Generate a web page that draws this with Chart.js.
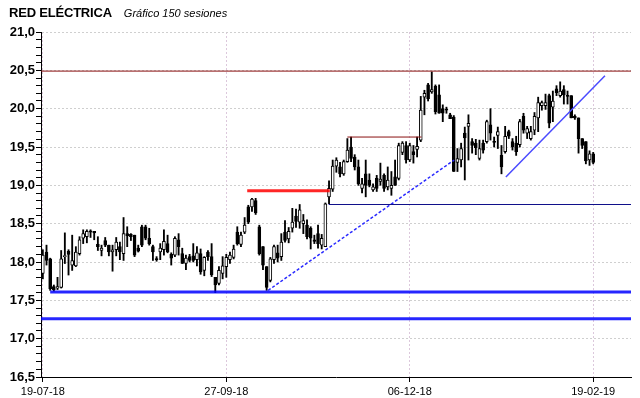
<!DOCTYPE html>
<html>
<head>
<meta charset="utf-8">
<script src="https://cdn.jsdelivr.net/npm/chart.js@4.4.1/dist/chart.umd.min.js"></script>
<style>
  html, body { margin: 0; padding: 0; background: #fff; }
  #wrap { position: relative; width: 640px; height: 398px; }
  #title { position: absolute; left: 9px; top: 3px; font-family: "Liberation Sans", Arial, sans-serif; white-space: nowrap; color: #000; }
  #title b { font-size: 13px; letter-spacing: -0.2px; }
  #title i { font-size: 11px; margin-left: 12px; }
</style>
</head>
<body>
<div id="wrap">
  <canvas id="chart" width="640" height="398"></canvas>
  <div id="title"><b>RED ELÉCTRICA</b><i>Gráfico 150 sesiones</i></div>
</div>
<script>
// sesiones (0..150), valores
const opens = [17.85,18.13,18.04,17.68,17.66,17.67,18.07,18.14,17.96,17.95,
  18.11,18.31,18.33,18.40,18.40,18.23,18.15,18.28,18.22,18.13,
  18.16,18.20,18.11,18.37,18.36,18.35,18.18,18.46,18.46,18.31,
  18.20,18.04,18.13,18.16,18.24,18.10,18.09,18.29,18.11,17.98,
  18.07,18.08,18.03,18.11,17.89,18.13,18.07,17.80,17.72,17.85,
  17.94,18.03,18.06,18.39,18.23,18.39,18.72,18.72,18.80,18.46,
  18.20,17.94,17.76,18.03,18.12,18.07,18.39,18.30,18.44,18.60,
  18.52,18.50,18.48,18.44,18.29,18.37,18.22,18.20,18.85,18.95,
  19.25,19.24,19.15,19.31,19.50,19.37,19.24,18.96,19.15,19.07,
  18.94,19.09,19.05,19.13,18.98,18.96,19.11,19.09,19.43,19.52,
  19.33,19.44,19.47,19.59,20.15,20.31,20.22,20.29,20.18,20.00,
  19.99,19.92,19.89,19.30,19.33,19.68,19.77,19.57,19.55,19.35,
  19.55,19.57,19.79,19.57,19.65,19.39,19.44,19.70,19.57,19.55,
  19.53,19.90,19.68,19.61,19.72,19.88,20.04,20.04,20.17,20.02,
  20.26,20.17,20.25,20.17,20.17,19.90,19.88,19.61,19.57,19.33,
  19.41];
const highs = [18.16,18.22,18.05,17.70,17.80,18.15,18.38,18.16,18.35,18.20,
  18.33,18.42,18.42,18.42,18.40,18.33,18.22,18.32,18.22,18.22,
  18.32,18.26,18.58,18.46,18.37,18.35,18.22,18.48,18.48,18.44,
  18.22,18.07,18.24,18.42,18.35,18.12,18.33,18.37,18.18,18.09,
  18.10,18.24,18.20,18.17,18.07,18.15,18.24,17.80,17.94,18.07,
  18.10,18.13,18.22,18.46,18.39,18.58,18.74,18.83,18.83,18.48,
  18.20,17.94,18.06,18.22,18.22,18.37,18.54,18.45,18.70,18.69,
  18.75,18.62,18.55,18.46,18.35,18.48,18.36,18.77,19.06,19.33,
  19.36,19.30,19.33,19.61,19.63,19.40,19.33,19.09,19.33,19.15,
  19.02,19.13,19.29,19.15,19.24,19.18,19.33,19.55,19.57,19.57,
  19.55,19.52,19.63,20.16,20.24,20.33,20.48,20.31,20.31,20.05,
  20.02,19.94,19.91,19.48,19.55,19.76,19.92,19.61,19.60,19.59,
  19.59,19.85,20.00,19.63,19.76,19.52,19.77,19.72,19.61,19.64,
  19.86,19.94,19.77,19.77,19.95,20.15,20.10,20.19,20.19,20.23,
  20.30,20.35,20.30,20.23,20.17,19.92,19.88,19.61,19.57,19.45,
  19.43];
const lows = [17.78,17.96,17.63,17.62,17.64,17.66,17.98,17.83,17.89,17.94,
  18.09,18.24,18.25,18.32,18.29,18.15,18.08,18.20,18.08,17.88,
  18.08,18.03,18.02,18.20,18.28,18.07,18.13,18.20,18.29,18.22,
  18.02,18.01,18.03,18.09,18.12,17.96,18.07,18.09,17.98,17.90,
  18.00,18.00,17.95,17.84,17.82,18.02,17.81,17.60,17.70,17.78,
  17.80,17.98,18.04,18.22,18.20,18.37,18.50,18.66,18.62,18.09,
  17.90,17.63,17.74,17.98,18.00,18.02,18.26,18.25,18.39,18.45,
  18.44,18.37,18.30,18.17,18.24,18.18,18.17,18.20,18.76,18.92,
  19.17,19.11,19.13,19.30,19.31,19.20,19.00,18.90,18.85,18.98,
  18.92,18.92,19.00,18.92,18.94,18.87,19.00,19.07,19.40,19.29,
  19.31,19.29,19.37,19.57,19.92,20.10,20.20,19.93,19.94,19.83,
  19.94,19.87,19.18,19.18,19.24,19.07,19.33,19.42,19.40,19.33,
  19.42,19.55,19.59,19.50,19.48,19.15,19.42,19.61,19.46,19.39,
  19.50,19.68,19.61,19.59,19.66,19.70,19.98,19.99,19.75,19.83,
  20.17,20.15,20.06,20.06,19.88,19.86,19.42,19.48,19.28,19.26,
  19.28];
const closes = [18.09,18.02,17.65,17.64,17.68,18.04,18.08,18.10,18.02,18.13,
  18.29,18.37,18.40,18.39,18.38,18.20,18.18,18.22,18.13,18.16,
  18.26,18.13,18.37,18.34,18.33,18.09,18.14,18.22,18.31,18.24,
  18.13,18.03,18.18,18.27,18.13,18.05,18.31,18.20,17.98,18.05,
  18.02,18.02,18.12,17.87,18.06,18.07,17.83,17.70,17.89,17.95,
  18.06,18.09,18.17,18.24,18.35,18.48,18.52,18.82,18.64,18.11,
  17.96,17.67,18.04,18.20,18.05,18.26,18.28,18.40,18.52,18.53,
  18.68,18.54,18.33,18.31,18.27,18.24,18.31,18.76,18.96,19.25,
  19.33,19.15,19.31,19.46,19.35,19.24,19.02,19.02,19.00,19.00,
  18.98,18.96,19.08,18.96,19.07,19.00,19.00,19.52,19.55,19.33,
  19.52,19.40,19.51,19.98,20.20,20.13,20.25,19.96,19.94,19.94,
  19.98,19.87,19.18,19.35,19.48,19.62,19.81,19.52,19.49,19.48,
  19.46,19.83,19.68,19.56,19.70,19.24,19.64,19.64,19.50,19.44,
  19.83,19.72,19.74,19.70,19.90,20.08,20.08,20.08,19.81,20.10,
  20.21,20.23,20.18,20.16,19.88,19.88,19.61,19.52,19.32,19.41,
  19.30];

// ejes
const dateTicks = [0, 50, 100, 150];
const dateLabels = ['19-07-18', '27-09-18', '06-12-18', '19-02-19'];
const yLabels = [16.5, 17.0, 17.5, 18.0, 18.5, 19.0, 19.5, 20.0, 20.5, 21.0];

// líneas dibujadas sobre el gráfico [sesión, precio]
const resistTop = [[-0.5, 20.49], [160.3, 20.49]];
const resistMid = [[83.0, 19.63], [103.2, 19.63]];
const resistLow = [[55.7, 18.93], [78.2, 18.93]];
const supportMid = [[77.9, 18.75], [160.3, 18.75]];
const support1 = [[2, 17.61], [160.3, 17.61]];
const support2 = [[-0.5, 17.26], [160.3, 17.26]];
const trendDashed = [[61.4, 17.63], [112.1, 19.33]];
const trendSolid = [[126.2, 19.11], [153.2, 20.43]];

const idx = opens.map((_, i) => i);
const wickData = idx.map(i => ({ x: i, y: [lows[i], highs[i]] }));
const bodyData = idx.map(i => {
  let lo = Math.min(opens[i], closes[i]), hi = Math.max(opens[i], closes[i]);
  if (hi - lo < 0.015) hi = lo + 0.015;
  return { x: i, y: [lo, hi] };
});
const bodyColors = idx.map(i => closes[i] >= opens[i] ? '#ffffff' : '#000000');

const pts = arr => arr.map(p => ({ x: p[0], y: p[1] }));
function lineSet(arr, color, width, dash) {
  return {
    type: 'line', data: pts(arr), borderColor: color, borderWidth: width,
    borderDash: dash || [], pointRadius: 0, fill: false, order: 0, tension: 0
  };
}

const isMajor = v => yLabels.some(l => Math.abs(l - v) < 1e-6);

new Chart(document.getElementById('chart').getContext('2d'), {
  type: 'bar',
  data: {
    datasets: [
      { data: wickData, backgroundColor: '#000', barThickness: 1.2, grouped: false, order: 2 },
      { data: bodyData, backgroundColor: bodyColors, borderColor: '#000', borderWidth: 1,
        borderSkipped: false, barThickness: 3, grouped: false, order: 1 },
      lineSet(resistTop, '#8a1010', 1),
      lineSet(resistMid, '#8a1010', 1),
      lineSet(resistLow, 'rgba(255,0,0,0.85)', 3),
      lineSet(supportMid, '#10108a', 1),
      lineSet(support1, 'rgba(0,0,255,0.85)', 3),
      lineSet(support2, 'rgba(0,0,255,0.85)', 3),
      lineSet(trendDashed, '#2a2aff', 1.5, [3, 2]),
      lineSet(trendSolid, '#4a4aff', 1.5)
    ]
  },
  options: {
    responsive: false,
    animation: false,
    devicePixelRatio: 1,
    layout: { padding: { top: 32, right: 9, left: 0, bottom: 0 } },
    plugins: { legend: { display: false }, tooltip: { enabled: false }, title: { display: false } },
    scales: {
      x: {
        type: 'linear', min: -0.5, max: 160.3, offset: false,
        afterBuildTicks: s => { s.ticks = dateTicks.map(v => ({ value: v })); },
        afterFit: s => { s.height = 21; },
        ticks: {
          autoSkip: false, maxRotation: 0, padding: 3, color: '#000',
          font: { family: '"Liberation Sans", Arial, sans-serif', size: 11 },
          callback: v => dateLabels[dateTicks.indexOf(v)]
        },
        grid: { offset: false, color: '#dcc8dc', tickColor: '#000', tickLength: 5, tickBorderDash: [] },
        border: { display: true, color: '#000', width: 1, dash: [2, 2] }
      },
      y: {
        min: 16.5, max: 21.0,
        afterBuildTicks: s => {
          const t = [];
          for (let k = 0; k <= 45; k++) t.push({ value: Math.round((16.5 + k * 0.1) * 10) / 10 });
          s.ticks = t;
        },
        afterFit: s => { s.width = 41; },
        ticks: {
          autoSkip: false, padding: 1, color: '#000',
          font: { family: '"Liberation Sans", Arial, sans-serif', size: 13, weight: 'bold' },
          callback: v => isMajor(v) ? v.toFixed(1).replace('.', ',') : ''
        },
        grid: {
          color: c => isMajor(c.tick.value) ? '#cfcfcf' : 'rgba(0,0,0,0)',
          tickColor: '#000', tickLength: 5, tickBorderDash: []
        },
        border: { display: true, color: '#000', width: 1, dash: [2, 2] }
      }
    }
  }
});
</script>
</body>
</html>
